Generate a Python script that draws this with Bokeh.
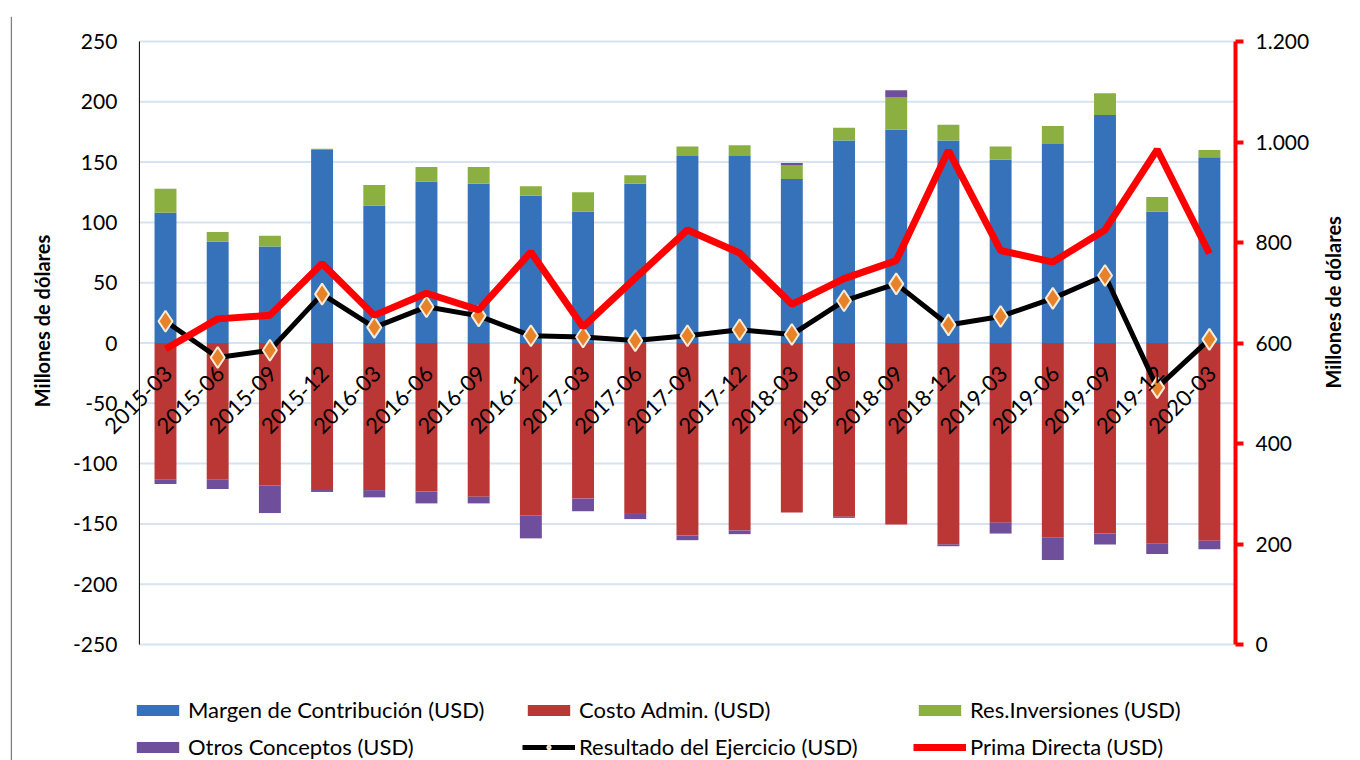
import math
import numpy as np
from bokeh.plotting import figure
from bokeh.models import (Range1d, LinearAxis, FixedTicker, ColumnDataSource,
                          Legend, LegendItem, LabelSet, Label, Span)
from bokeh.core.properties import value
from bokeh.embed import file_html
from bokeh.resources import INLINE

cats = ["2015-03", "2015-06", "2015-09", "2015-12", "2016-03", "2016-06", "2016-09", "2016-12",
        "2017-03", "2017-06", "2017-09", "2017-12", "2018-03", "2018-06", "2018-09", "2018-12",
        "2019-03", "2019-06", "2019-09", "2019-12", "2020-03"]
margen = [108, 84, 80, 160, 114, 134, 132, 122, 109, 132, 155, 155, 136, 168, 177, 168, 152, 165, 189, 109, 154]
res_inv = [20, 8, 9, 1, 17, 12, 14, 8, 16, 7, 8, 9, 11.5, 10.5, 26.5, 13, 11, 15, 18, 12, 6]
costo = [-113, -113, -118, -121, -122, -123, -127.5, -143, -129, -141, -159.5, -155.5, -140.5, -144,
         -150.5, -167, -149, -161, -158, -166, -164]
otros = [-4, -8, -23, -2.5, -6, -10, -5.5, -19, -10.5, -5, -4, -3, 1.7, -1, 6, -1.5, -9, -19, -9, -9, -7]
resultado = [18, -12, -6, 40.5, 13, 30, 22.5, 6, 5, 2, 6, 11, 7, 35, 49, 15, 22, 37, 56, -37, 3]
prima = [588, 648, 655, 758, 655, 699, 666, 781, 632, 729, 825, 779, 677, 728, 764, 983, 784, 761, 825, 985, 778]

left_ticks = [-250, -200, -150, -100, -50, 0, 50, 100, 150, 200, 250]
right_ticks = [0, 200, 400, 600, 800, 1000, 1200]
right_tick_labels = {1000: "1.000", 1200: "1.200"}
y_title = "Millones de dólares"

FONT = "Lato"

# ---- layout (pixels) ----
FIG_W, FIG_H = 1360, 760
FRAME_L, FRAME_R = 10, 1236     # drawing area (wide, so rotated labels are not clipped)
FRAME_T = 16
AXIS_X = 139                    # where the left value axis stands
TOP, AXIS_BOTTOM = 41, 644      # value area
L_MIN, L_MAX = -250, 250
R_MIN, R_MAX = 0, 1200
AREA_H = AXIS_BOTTOM - TOP
EXTRA_B = FIG_H - AXIS_BOTTOM
EXTRA_T = TOP - FRAME_T
l_start = L_MIN - EXTRA_B * (L_MAX - L_MIN) / AREA_H
l_end = L_MAX + EXTRA_T * (L_MAX - L_MIN) / AREA_H
r_start = R_MIN - EXTRA_B * (R_MAX - R_MIN) / AREA_H
r_end = R_MAX + EXTRA_T * (R_MAX - R_MIN) / AREA_H
n = len(cats)
px_per_cat = (FRAME_R - AXIS_X) / n
x_start = -0.5 - (AXIS_X - FRAME_L) / px_per_cat
x_end = n - 0.5
x_left_edge = -0.5

idx = list(range(n))
m = np.array(margen, dtype=float)
g = np.array(res_inv, dtype=float)
c = np.array(costo, dtype=float)
o = np.array(otros, dtype=float)
pos_o = np.where(o > 0, o, 0.0)
neg_o = np.where(o < 0, o, 0.0)

src = ColumnDataSource(dict(
    x=idx, cat=cats, zero=[0] * n,
    m_top=m, g_bot=m, g_top=m + g, op_bot=m + g, op_top=m + g + pos_o,
    c_top=c, on_bot=c, on_top=c + neg_o,
    res=resultado, prima=prima,
))
tick_src = ColumnDataSource(dict(
    y=left_ticks, x=[x_left_edge] * len(left_ticks), x1=[x_end] * len(left_ticks),
    text=[str(t) for t in left_ticks],
))

p = figure(x_range=Range1d(x_start, x_end), y_range=Range1d(l_start, l_end),
           width=FIG_W, height=FIG_H, output_backend="svg", toolbar_location=None,
           x_axis_location=None, y_axis_location=None,
           min_border_left=FRAME_L, min_border_right=FIG_W - FRAME_R,
           min_border_top=FRAME_T, min_border_bottom=0)
p.outline_line_color = None
p.grid.visible = False

# chart border on the left
p.add_layout(Span(location=x_start + 0.8 / px_per_cat, dimension="height",
                  line_color="#808080", line_width=1.5))

# horizontal grid lines and left value axis (drawn from the tick list)
p.segment(x0="x", y0="y", x1="x1", y1="y", source=tick_src, line_color="#d7e3f1", line_width=2)
p.segment(x0=[x_left_edge], y0=[L_MIN], x1=[x_left_edge], y1=[L_MAX], line_color="black", line_width=1)
p.add_layout(LabelSet(x="x", y="y", text="text", source=tick_src, x_offset=-22,
                      text_align="right", text_baseline="middle",
                      text_font=value(FONT), text_font_size="21px", text_color="black"))
p.add_layout(Label(x=x_left_edge, y=0, x_offset=-(AXIS_X - 42), y_offset=22, text=y_title,
                   angle=math.pi / 2, text_align="center", text_baseline="middle",
                   text_font=FONT, text_font_size="20px", text_font_style="bold", text_color="black"))

# right axis (Prima Directa)
p.extra_y_ranges = {"prima": Range1d(r_start, r_end)}
rax = LinearAxis(y_range_name="prima", ticker=FixedTicker(ticks=right_ticks),
                 major_label_overrides=right_tick_labels, bounds=(R_MIN, R_MAX))
rax.axis_line_color = "#ff0000"
rax.axis_line_width = 4
rax.major_tick_line_color = "#ff0000"
rax.major_tick_line_width = 4
rax.major_tick_out = 8
rax.major_tick_in = 0
rax.minor_tick_line_color = None
rax.major_label_text_font = FONT
rax.major_label_text_font_size = "21px"
rax.major_label_text_color = "black"
rax.major_label_standoff = 12
rax.axis_label = y_title
rax.axis_label_orientation = math.pi / 2
rax.axis_label_text_font = FONT
rax.axis_label_text_font_size = "20px"
rax.axis_label_text_font_style = "bold"
rax.axis_label_text_color = "black"
rax.axis_label_standoff = 21
p.add_layout(rax, "right")

W = 0.42
r_blue = p.vbar(x="x", bottom="zero", top="m_top", width=W, source=src, fill_color="#3672ba", line_color=None)
r_green = p.vbar(x="x", bottom="g_bot", top="g_top", width=W, source=src, fill_color="#8bb041", line_color=None)
r_pp = p.vbar(x="x", bottom="op_bot", top="op_top", width=W, source=src, fill_color="#6f4f9c", line_color=None)
r_red = p.vbar(x="x", bottom="zero", top="c_top", width=W, source=src, fill_color="#bb3736", line_color=None)
r_pn = p.vbar(x="x", bottom="on_bot", top="on_top", width=W, source=src, fill_color="#6f4f9c", line_color=None)

r_res_line = p.line(x="x", y="res", source=src, line_color="black", line_width=5)
r_res_pts = p.scatter(x="x", y="res", source=src, marker="diamond", size=21,
                      fill_color="#e8822a", line_color="#f6ecd8", line_width=2)
r_prima = p.line(x="x", y="prima", source=src, y_range_name="prima", line_color="#ff0000", line_width=7)

# category labels along the zero line
p.add_layout(LabelSet(x="x", y="zero", text="cat", source=src, angle=math.pi / 4,
                      text_align="right", text_baseline="middle", x_offset=3, y_offset=-27,
                      text_font=value(FONT), text_font_size="22px", text_color="black"))

legend = Legend(items=[
    LegendItem(label="Margen de Contribución (USD)", renderers=[r_blue]),
    LegendItem(label="Costo Admin. (USD)", renderers=[r_red]),
    LegendItem(label="Res.Inversiones (USD)", renderers=[r_green]),
    LegendItem(label="Otros Conceptos (USD)", renderers=[r_pn]),
    LegendItem(label="Resultado del Ejercicio (USD)", renderers=[r_res_line, r_res_pts]),
    LegendItem(label="Prima Directa (USD)", renderers=[r_prima]),
], ncols=3, orientation="horizontal", location=(131 - FRAME_L, 0),
    glyph_width=53, glyph_height=14, label_width=324, label_height=20, label_standoff=4,
    spacing=10, padding=0, margin=0, border_line_color=None, background_fill_alpha=0,
    label_text_font=FONT, label_text_font_size="22px", label_text_color="black")
p.add_layout(legend)

open("out.html", "w").write(file_html(p, INLINE))
